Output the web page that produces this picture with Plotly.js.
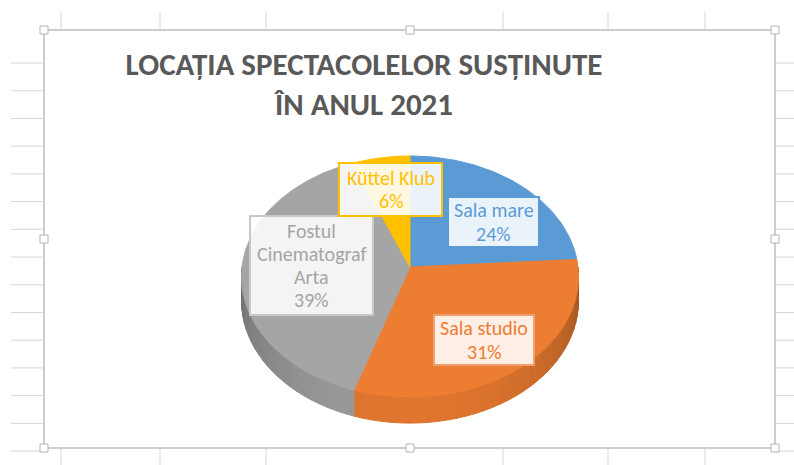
<!DOCTYPE html>
<html><head><meta charset="utf-8">
<script src="https://cdn.plot.ly/plotly-3.0.1.min.js"></script>
<style>html,body{margin:0;padding:0;background:#fff}#chart{width:794px;height:465px}</style>
</head><body><div id="chart"></div>
<script>
// ---- data ----
const categories = ['Sala mare', 'Sala studio', 'Fostul Cinematograf Arta', 'Küttel Klub'];
const values = [24, 31, 39, 6];
const labelNames = ['Sala mare', 'Sala studio', 'Fostul<br>Cinematograf<br>Arta', 'Küttel Klub'];
const sliceColors = ['#5b9bd5', '#ed7d31', '#a5a5a5', '#ffc000'];
const titleText = 'LOCAȚIA SPECTACOLELOR SUSȚINUTE<br>ÎN ANUL 2021';

// ---- geometry (layout only) ----
const W = 794, H = 465;
const CX = 410, CY = 267, RX = 168, RY = 119.8, P = 0.0788, D = 24;
const FONT = 'Carlito, Calibri, Lato, sans-serif';
const LABEL_SIZE = 20, LABEL_LINE = 23.2;

function proj(theta, depth) {
  const t = theta * Math.PI / 180;
  const u = Math.sin(t), v = -Math.cos(t);
  const s = 1 / (1 - P * v);
  return [CX + RX * u * s, CY + RY * v * s + depth * s];
}
function shade(hex, f) {
  const n = parseInt(hex.slice(1), 16);
  const r = Math.round(((n >> 16) & 255) * f), g = Math.round(((n >> 8) & 255) * f), b = Math.round((n & 255) * f);
  return 'rgb(' + r + ',' + g + ',' + b + ')';
}

const total = values.reduce((a, b) => a + b, 0);
const starts = [], ends = [];
let acc = 0;
values.forEach(v => { starts.push(acc / total * 360); acc += v; ends.push(acc / total * 360); });

const traces = [];
// side walls (visible between 90 and 270 degrees)
values.forEach((v, i) => {
  const a0 = Math.max(starts[i], 90), a1 = Math.min(ends[i], 270);
  if (a1 <= a0) return;
  const step = 3;
  for (let a = a0; a < a1; a += step) {
    const b = Math.min(a + step, a1);
    const mid = (a + b) / 2;
    const f = 0.66 + 0.28 * Math.sin((mid - 90) / 180 * Math.PI);
    const col = shade(sliceColors[i], f);
    const pts = [proj(a, 0), proj(b, 0), proj(b, D), proj(a, D), proj(a, 0)];
    traces.push({type: 'scatter', mode: 'lines', x: pts.map(p => p[0]), y: pts.map(p => p[1]),
      fill: 'toself', fillcolor: col, line: {color: col, width: 1}, hoverinfo: 'skip', showlegend: false});
  }
});
// top faces
values.forEach((v, i) => {
  const xs = [CX], ys = [CY];
  const n = Math.max(2, Math.ceil(ends[i] - starts[i]));
  for (let k = 0; k <= n; k++) {
    const p = proj(starts[i] + (ends[i] - starts[i]) * k / n, 0);
    xs.push(p[0]); ys.push(p[1]);
  }
  xs.push(CX); ys.push(CY);
  traces.push({type: 'scatter', mode: 'lines', x: xs, y: ys, fill: 'toself', fillcolor: sliceColors[i],
    line: {color: sliceColors[i], width: 1}, name: categories[i],
    text: categories[i] + ': ' + Math.round(v / total * 100) + '%', hoverinfo: 'text', showlegend: false});
});

// label boxes (positions are layout)
const labelBoxes = [
  {x0: 448, x1: 539, y0: 197, y1: 247, text: '#5b9bd5', border: '#5b9bd5'},
  {x0: 434, x1: 534, y0: 315, y1: 365, text: '#ed7d31', border: '#f0a070'},
  {x0: 250, x1: 373, y0: 216, y1: 315, text: '#a5a5a5', border: '#c8c8c8'},
  {x0: 339, x1: 442, y0: 163, y1: 216, text: '#ffc000', border: '#ffc000'}
];
const shapes = [];
const annotations = [];
values.forEach((v, i) => {
  const b = labelBoxes[i];
  shapes.push({type: 'rect', xref: 'x', yref: 'y', x0: b.x0, x1: b.x1, y0: b.y0, y1: b.y1,
    fillcolor: 'rgba(255,255,255,0.88)', line: {color: b.border, width: 2}});
  const lines = labelNames[i].split('<br>').concat([Math.round(v / total * 100) + '%']);
  const cy = (b.y0 + b.y1) / 2, cx = (b.x0 + b.x1) / 2;
  lines.forEach((t, k) => {
    annotations.push({x: cx, y: cy + (k - (lines.length - 1) / 2) * LABEL_LINE, xref: 'x', yref: 'y',
      showarrow: false, text: t, font: {family: FONT, size: LABEL_SIZE, color: b.text},
      xanchor: 'center', yanchor: 'middle'});
  });
});

// spreadsheet decoration
const gridCol = '#d6d6d6';
const cols = [61, 160, 266, 503, 608, 705];
cols.forEach(x => {
  shapes.push({type: 'line', xref: 'x', yref: 'y', x0: x, x1: x, y0: 12, y1: 30, line: {color: gridCol, width: 1}, layer: 'below'});
  shapes.push({type: 'line', xref: 'x', yref: 'y', x0: x, x1: x, y0: 448, y1: 465, line: {color: gridCol, width: 1}, layer: 'below'});
});
for (let k = 0; k < 15; k++) {
  const y = 63 + k * 27.72;
  shapes.push({type: 'line', xref: 'x', yref: 'y', x0: 11, x1: 44, y0: y, y1: y, line: {color: gridCol, width: 1}, layer: 'below'});
  shapes.push({type: 'line', xref: 'x', yref: 'y', x0: 775, x1: 794, y0: y, y1: y, line: {color: gridCol, width: 1}, layer: 'below'});
}
shapes.push({type: 'rect', xref: 'x', yref: 'y', x0: 44, x1: 775, y0: 30, y1: 448, line: {color: '#cdcdcd', width: 2}, layer: 'below'});
[[44, 30], [410, 30], [775, 30], [44, 239], [775, 239], [44, 448], [410, 448], [775, 448]].forEach(h => {
  shapes.push({type: 'rect', xref: 'x', yref: 'y', x0: h[0] - 4, x1: h[0] + 4, y0: h[1] - 4, y1: h[1] + 4,
    fillcolor: '#ffffff', line: {color: '#b4b4b4', width: 1}});
});

const layout = {
  width: W, height: H, margin: {l: 0, r: 0, t: 0, b: 0},
  paper_bgcolor: '#ffffff', plot_bgcolor: '#ffffff',
  xaxis: {range: [0, W], visible: false, fixedrange: true},
  yaxis: {range: [H, 0], visible: false, fixedrange: true},
  title: {text: titleText, x: 364 / W, xanchor: 'center', xref: 'paper', y: 1 - 75 / H, yanchor: 'middle', yref: 'container',
    font: {family: FONT, size: 31, color: '#595959', weight: 'bold'}},
  annotations: annotations, shapes: shapes, showlegend: false
};
Plotly.newPlot('chart', traces, layout, {displayModeBar: false, staticPlot: true});
</script></body></html>
